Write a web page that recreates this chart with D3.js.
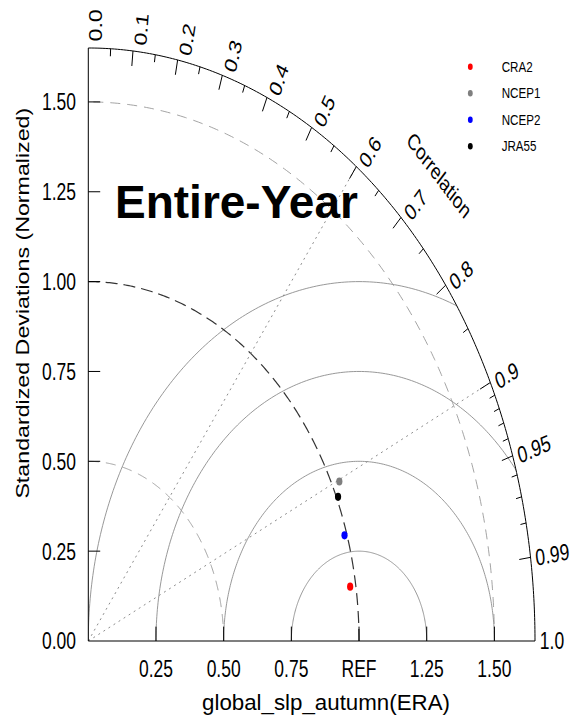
<!DOCTYPE html>
<html><head><meta charset="utf-8">
<script src="https://cdn.jsdelivr.net/npm/d3@7"></script>
<style>body{margin:0;background:#fff} text{font-family:"Liberation Sans",Arial,Helvetica,sans-serif;fill:#000}</style>
</head><body><svg id="c" width="572" height="718"></svg>
<script>
// ---- data ----
const models = ["CRA2", "NCEP1", "NCEP2", "JRA55"];
const stdDev = [0.979, 1.028, 0.991, 1.006];
const corr = [0.988, 0.902, 0.955, 0.917];
const colors = ["#ff0000", "#7f7f7f", "#0000ff", "#000000"];
const corrMajor = [0.0, 0.1, 0.2, 0.3, 0.4, 0.5, 0.6, 0.7, 0.8, 0.9, 0.95, 0.99, 1.0];
const corrLabels = ["0.0", "0.1", "0.2", "0.3", "0.4", "0.5", "0.6", "0.7", "0.8", "0.9", "0.95", "0.99", "1.0"];
const corrMinor = [0.05, 0.15, 0.25, 0.35, 0.45, 0.55, 0.65, 0.75, 0.85, 0.91, 0.92, 0.93, 0.94, 0.96, 0.97, 0.98];
const yTicks = [0.0, 0.25, 0.5, 0.75, 1.0, 1.25, 1.5];
const yTickLabels = ["0.00", "0.25", "0.50", "0.75", "1.00", "1.25", "1.50"];
const xTicks = [0.25, 0.5, 0.75, 1.0, 1.25, 1.5];
const xTickLabels = ["0.25", "0.50", "0.75", "REF", "1.25", "1.50"];
const stdLevels = [0.5, 1.0, 1.5];
const rmsLevels = [0.25, 0.5, 0.75, 1.0];
const corrLines = [0.6, 0.9];
const maxR = 1.65;
const title = "Entire-Year";
const xTitle = "global_slp_autumn(ERA)";
const yTitle = "Standardized Deviations (Normalized)";

// ---- scales ----
const svg = d3.select("#c");
const x = d3.scaleLinear().domain([0, maxR]).range([88.3, 535]);
const y = d3.scaleLinear().domain([0, maxR]).range([641, 48]);
const k = (y(0) - y(1)) / (x(1) - x(0));
const P = (r, th) => [x(r * Math.cos(th)), y(r * Math.sin(th))];
const arcPts = (cx, cy, rad, a0, a1, n = 240) => d3.range(n + 1).map(i => {
  const a = a0 + (a1 - a0) * i / n;
  return [x(cx + rad * Math.cos(a)), y(cy + rad * Math.sin(a))];
});
const line = d3.line();
const deg = a => a * 180 / Math.PI;

// clip
const defs = svg.append("defs");
defs.append("clipPath").attr("id", "clip").append("path")
  .attr("d", line(arcPts(0, 0, maxR, 0, Math.PI / 2)) + "L" + x(0) + "," + y(0) + "Z");

const g = svg.append("g").attr("clip-path", "url(#clip)");

// RMS circles
g.selectAll(".rms").data(rmsLevels).join("path").attr("class", "rms")
  .attr("d", r => line(arcPts(1, 0, r, 0, Math.PI)))
  .attr("fill", "none").attr("stroke", "#8c8c8c").attr("stroke-width", 0.9);

// std dev arcs
g.selectAll(".std").data(stdLevels).join("path").attr("class", "std")
  .attr("d", r => line(arcPts(0, 0, r, 0, Math.PI / 2)))
  .attr("fill", "none")
  .attr("stroke", r => r === 1.0 ? "#333" : "#9a9a9a")
  .attr("stroke-width", r => r === 1.0 ? 1.2 : 0.9)
  .attr("stroke-dasharray", r => r === 1.0 ? "12,6" : "10,7");

// correlation dotted lines
g.selectAll(".cl").data(corrLines).join("path").attr("class", "cl")
  .attr("d", c => line([P(0, 0), P(maxR, Math.acos(c))]))
  .attr("fill", "none").attr("stroke", "#8c8c8c").attr("stroke-width", 1)
  .attr("stroke-dasharray", "2,4");

// outer arc and axes
svg.append("path").attr("d", line(arcPts(0, 0, maxR, 0, Math.PI / 2)))
  .attr("fill", "none").attr("stroke", "#000").attr("stroke-width", 1);
svg.append("path").attr("d", line([[x(0), y(0)], [x(maxR), y(0)]])).attr("stroke", "#000").attr("stroke-width", 1.2);
svg.append("path").attr("d", line([[x(0), y(0)], [x(0), y(maxR)]])).attr("stroke", "#000").attr("stroke-width", 1);

// corr ticks
const tickG = svg.append("g");
tickG.selectAll(".mj").data(corrMajor.filter(c => c > 0 && c < 1)).join("path")
  .attr("d", c => line([P(maxR, Math.acos(c)), P(maxR - 0.042, Math.acos(c))]))
  .attr("stroke", "#000").attr("stroke-width", 1);
tickG.selectAll(".mn").data(corrMinor).join("path")
  .attr("d", c => line([P(maxR, Math.acos(c)), P(maxR - 0.021, Math.acos(c))]))
  .attr("stroke", "#000").attr("stroke-width", 1);
// std ticks
tickG.selectAll(".yt").data(yTicks.filter(v => v > 0)).join("path")
  .attr("d", v => line([[x(0), y(v)], [x(0.044), y(v)]]))
  .attr("stroke", "#000").attr("stroke-width", 1);
tickG.selectAll(".xt").data(xTicks).join("path")
  .attr("d", v => line([[x(v), y(0)], [x(v), y(0.04)]]))
  .attr("stroke", "#000").attr("stroke-width", 1);

// corr labels
svg.selectAll(".clab").data(corrMajor).join("text")
  .attr("transform", c => {
    const th = Math.acos(c);
    const p = P(1.668, th);
    return `translate(${p[0]},${p[1]}) scale(1,${k}) rotate(${-deg(th)})`;
  })
  .attr("dy", c => (0.4 * Math.acos(c) / (Math.PI / 2)) + "em")
  .attr("dominant-baseline", "central")
  .attr("font-size", 17.5)
  .text((c, i) => corrLabels[i]);

// "Correlation" label
{
  const p = P(1.833, Math.PI / 4);
  svg.append("text")
    .attr("transform", `translate(${p[0]},${p[1]}) scale(1,${k}) rotate(45)`)
    .attr("text-anchor", "middle").attr("dominant-baseline", "central")
    .attr("font-size", 17).text("Correlation");
}

// y tick labels
svg.selectAll(".ylab").data(yTicks).join("text")
  .attr("transform", v => `translate(${x(0) - 12.3},${y(v)}) scale(1,${k})`)
  .attr("text-anchor", "end").attr("dominant-baseline", "central")
  .attr("font-size", 17.5)
  .text((v, i) => yTickLabels[i]);
// x tick labels
svg.selectAll(".xlab").data(xTicks).join("text")
  .attr("transform", v => `translate(${x(v)},${y(0) + 35.5}) scale(1,${k})`)
  .attr("text-anchor", "middle")
  .attr("font-size", 17.5)
  .text((v, i) => xTickLabels[i]);

// axis titles
svg.append("text")
  .attr("transform", `translate(28.5,${y(0.94)}) scale(1,${k}) rotate(-90)`)
  .attr("text-anchor", "middle").attr("font-size", 17.5).text(yTitle);
svg.append("text")
  .attr("x", 326).attr("y", 710).attr("text-anchor", "middle")
  .attr("font-size", 22.3).text(xTitle);

// main title
svg.append("text").attr("x", 115).attr("y", 218)
  .attr("font-size", 46).attr("font-weight", "bold").text(title);

// data points
svg.selectAll(".pt").data(models).join("ellipse")
  .attr("cx", (m, i) => P(stdDev[i], Math.acos(corr[i]))[0])
  .attr("cy", (m, i) => P(stdDev[i], Math.acos(corr[i]))[1])
  .attr("rx", 3.1).attr("ry", 3.1 * k)
  .attr("fill", (m, i) => colors[i]);

// legend
const leg = svg.append("g");
const ly = d3.scaleLinear().domain([0, 1]).range([66.7, 93.2]);
leg.selectAll("ellipse").data(models).join("ellipse")
  .attr("cx", 470.3).attr("cy", (m, i) => ly(i))
  .attr("rx", 2.4).attr("ry", 2.4 * k)
  .attr("fill", (m, i) => colors[i]);
leg.selectAll("text").data(models).join("text")
  .attr("transform", (m, i) => `translate(501.7,${ly(i)}) scale(1,${k})`)
  .attr("dominant-baseline", "central")
  .attr("font-size", 11.6).text(m => m);
</script>
</body></html>
